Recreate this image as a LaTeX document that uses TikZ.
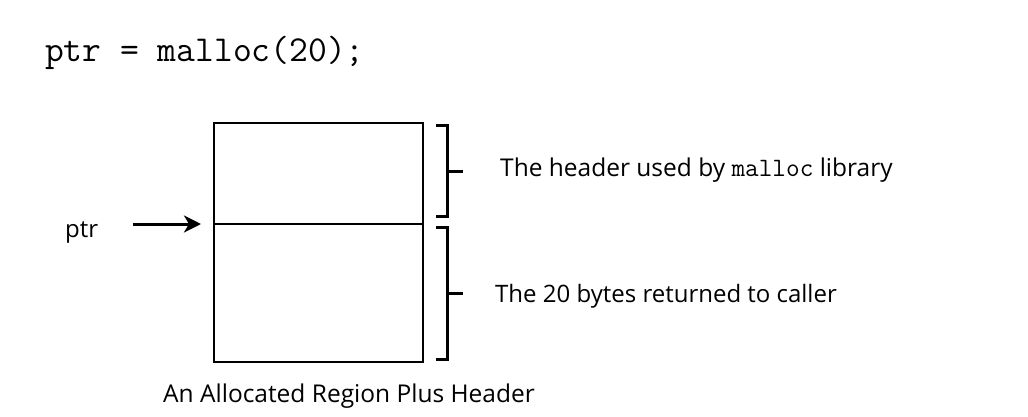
\documentclass[tikz,border=0pt]{standalone}
\usepackage{fontspec}
\setmainfont{Open Sans}
\setmonofont{Latin Modern Mono}
\usetikzlibrary{arrows.meta}
\begin{document}
\begin{tikzpicture}[x=1pt,y=-1pt,
  cell/.style={draw,line width=2pt,minimum width=209pt,inner sep=0pt,outer sep=0pt},
  brace/.style={line width=3pt},
  lbl/.style={font=\fontsize{24}{28}\selectfont,inner sep=0pt,anchor=west}]
\useasboundingbox (0,0) rectangle (1028,416);
\node[anchor=west,inner sep=0pt,font=\fontsize{36.5}{38}\ttfamily] (code) at (45,53) {ptr = malloc(20);};
\node[cell,minimum height=101pt,anchor=north west] (hdr) at (214,123) {};
\node[cell,minimum height=138pt,anchor=north west] (body) at (214,224) {};
\node[lbl] (ptr) at (65,232) {ptr};
\coordinate (tip) at (201,224);
\draw[line width=3pt,-{Stealth[length=17pt,width=17pt,inset=5pt]}] (133,224) -- (tip);
% upper brace
\draw[brace] (436,125) -- (447,125) -- (447,216) -- (436,216);
\coordinate (t1) at (463,171);
\draw[brace] (447,171) -- (t1);
% lower brace
\draw[brace] (436,227) -- (447,227) -- (447,359) -- (436,359);
\coordinate (t2) at (463,293);
\draw[brace] (447,293) -- (t2);
\node[lbl,font=\fontsize{24.5}{28}\selectfont] (l1) at (500,170) {The header used by \texttt{\fontsize{26.5}{28}\selectfont malloc} library};
\node[lbl] (l2) at (495,296) {The 20 bytes returned to caller};
\node[lbl,font=\fontsize{24.5}{28}\selectfont] (cap) at (163,396) {An Allocated Region Plus Header};
\end{tikzpicture}
\end{document}
